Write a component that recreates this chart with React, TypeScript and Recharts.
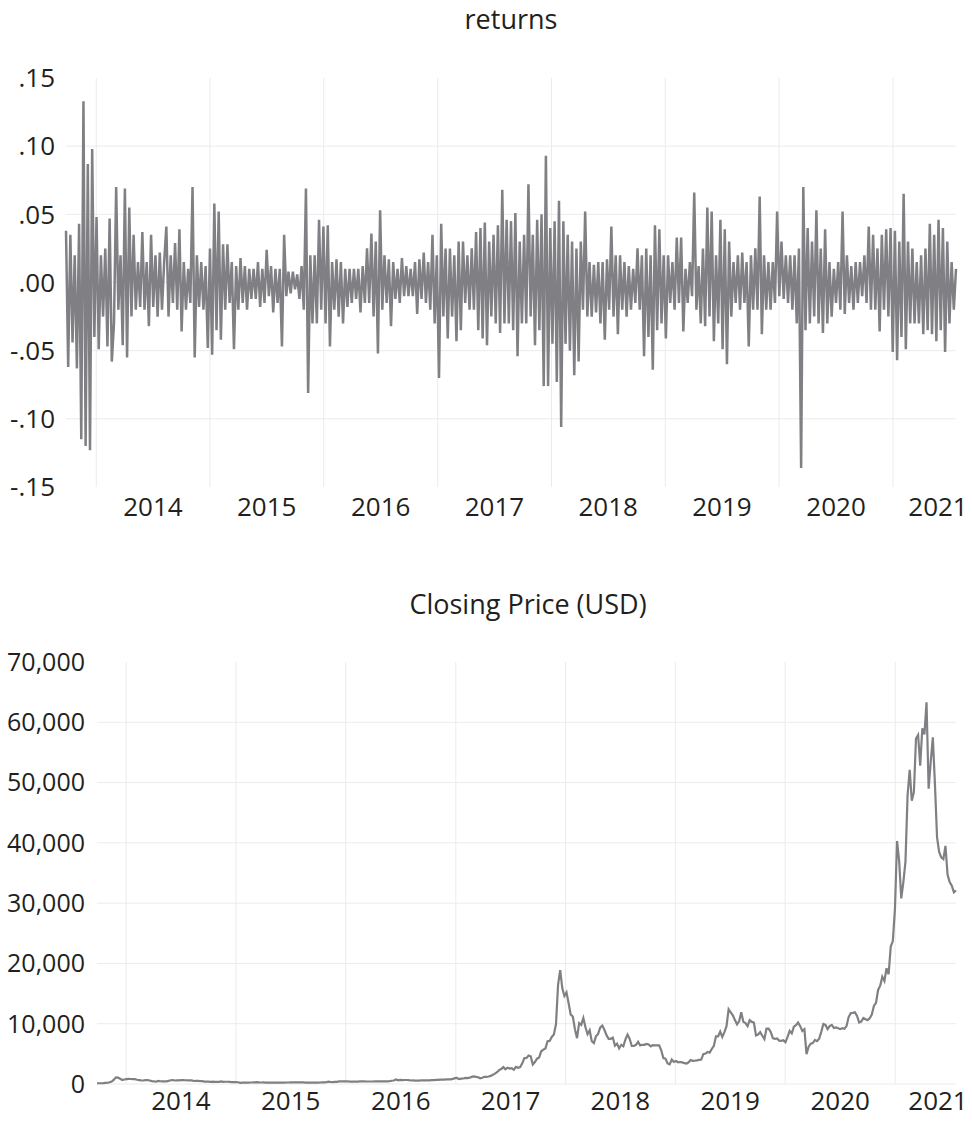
import React from 'react';
import { LineChart, Line, XAxis, YAxis, CartesianGrid } from 'recharts';

// weekly observations, Thursday closes
const startDate = Date.UTC(2013, 8, 26);
const endDate = Date.UTC(2021, 6, 22);
const WEEK = 7 * 24 * 3600 * 1000;

const years = [2014, 2015, 2016, 2017, 2018, 2019, 2020, 2021];
const yearStarts = years.map((y) => Date.UTC(y, 0, 1));
const yearLabels = years.map((y) => Date.UTC(y, 6, 2));

const returnTicks = [-0.15, -0.1, -0.05, 0, 0.05, 0.1, 0.15];
const returnGrid = [-0.1, -0.05, 0, 0.05, 0.1];
const priceTicks = [0, 10000, 20000, 30000, 40000, 50000, 60000, 70000];
const priceGrid = [0, 10000, 20000, 30000, 40000, 50000, 60000];

const weeklyReturns = [
  // Sep 2013 - Sep 2014
  .038, -.062, .035, -.044, .02, -.063, .043, -.115, .133, -.12, .087, -.123, .098, -.04, .048, -.049, .02, -.025, .025, -.047, .047, -.058, -.03, .07, -.02, .02,
  -.046, .069, -.055, .055, -.025, .035, -.02, .015, -.018, .037, -.02, .015, -.032, .035, -.018, .02, -.025, .022, -.02, .015, .041, -.025, .02, -.015, .029, -.02,
  // Sep 2014 - Sep 2015
  .039, -.036, .015, -.02, .01, -.015, .07, -.055, .02, -.018, .015, -.02, .012, -.048, .025, -.053, .058, -.035, .052, -.042, .028, -.02, .028, -.015, .015, -.049,
  .012, -.02, .018, -.015, .012, -.02, .01, -.012, .01, -.012, .015, -.018, .01, -.015, .024, -.01, .012, -.022, .01, -.015, .01, -.047, .035, -.01, .008, -.008,
  // Sep 2015 - Sep 2016
  .008, -.005, .006, -.012, .012, -.02, .069, -.081, .02, -.03, .02, -.03, .046, -.02, .041, -.03, .042, -.047, .015, -.02, .017, -.025, .015, -.03, .01, -.018,
  .01, -.015, .01, -.012, .01, -.022, .012, -.015, .025, -.015, .036, -.025, .03, -.052, .053, -.02, .02, -.015, .017, -.032, .015, -.012, .01, -.015, .018, -.01,
  // Sep 2016 - Sep 2017
  .012, -.01, .01, -.01, .015, -.023, .017, -.012, .022, -.015, .015, -.02, .035, -.03, .02, -.07, .043, -.025, .025, -.041, .025, -.025, .02, -.043, .03, -.035,
  .03, -.015, .02, -.02, .025, -.02, .037, -.035, .04, -.041, .044, -.046, .03, -.025, .035, -.03, .042, -.037, .068, -.03, .046, -.03, .045, -.035, .051, -.054,
  // Sep 2017 - Sep 2018
  .03, -.03, .035, -.03, .072, -.025, .035, -.046, .046, -.035, .05, -.076, .093, -.076, .04, -.045, .045, -.073, .06, -.106, .045, -.045, .035, -.05, .03, -.068,
  .025, -.058, .03, -.02, .052, -.025, .015, -.025, .013, -.022, .015, -.03, .015, -.042, .017, -.02, .041, -.025, .02, -.038, .02, -.02, .015, -.025, .012, -.02,
  // Sep 2018 - Sep 2019
  .01, -.015, .025, -.02, .02, -.054, .025, -.04, .02, -.064, .042, -.035, .039, -.03, .02, -.041, .02, -.015, .015, -.02, .033, -.015, .033, -.036, .01, -.015,
  .015, -.01, .066, -.02, .012, -.03, .025, -.032, .055, -.025, .052, -.043, .02, -.03, .046, -.049, .039, -.06, .03, -.025, .015, -.015, .02, -.02, .022, -.015,
  // Sep 2019 - Sep 2020
  .015, -.047, .02, -.02, .025, -.02, .063, -.038, .02, -.02, .015, -.02, .015, -.015, .052, -.01, .03, -.012, .02, -.015, .02, -.02, .02, -.03, .025, -.136,
  .07, -.035, .04, -.03, .03, -.025, .053, -.03, .025, -.037, .039, -.03, .015, -.025, .01, -.015, .015, -.02, .052, -.023, .02, -.015, .012, -.02, .015, -.015,
  // Sep 2020 - Jul 2021
  .015, -.01, .02, -.015, .041, -.02, .035, -.02, .025, -.036, .035, -.02, .039, -.025, .04, -.051, .038, -.057, .03, -.04, .065, -.049, .03,
  -.03, .025, -.03, .015, -.03, .02, -.038, .025, -.035, .043, -.038, .035, -.043, .046, -.035, .04, -.051, .03, -.03, .015, -.02, .01,
];

const weeklyClose = [
  // 2013
  125, 122, 125, 150, 190, 205, 290, 420, 720, 1100, 1050, 880, 660, 750,
  // 2014
  810, 860, 830, 810, 800, 700, 650, 600, 580, 650, 630, 580, 480, 450, 380, 500, 460, 450, 440, 450, 520, 620, 650, 580, 600, 590,
  640, 630, 620, 600, 590, 590, 500, 515, 510, 480, 475, 400, 410, 380, 350, 385, 355, 340, 350, 420, 360, 370, 370, 350, 320, 320,
  // 2015
  315, 290, 200, 235, 230, 220, 235, 245, 255, 275, 295, 260, 250, 255, 235, 225, 230, 235, 240, 237, 240, 237, 225, 230, 250, 245,
  258, 270, 280, 277, 285, 278, 265, 235, 225, 230, 240, 232, 235, 238, 245, 262, 280, 315, 380, 335, 325, 360, 365, 435, 455, 430, 430,
  // 2016
  455, 390, 410, 380, 385, 380, 420, 425, 425, 415, 415, 418, 416, 422, 425, 450, 450, 448, 455, 442, 470, 540, 580, 760, 610, 670,
  640, 660, 665, 655, 580, 590, 575, 578, 573, 625, 607, 595, 605, 612, 637, 630, 690, 690, 715, 740, 735, 755, 770, 780, 860, 975,
  // 2017
  1000, 810, 895, 915, 1010, 990, 1050, 1180, 1260, 1190, 1120, 940, 1040, 1190, 1180, 1240, 1350, 1530, 1720, 1960, 2300, 2480, 2800, 2450, 2700, 2550,
  2610, 2360, 2830, 2680, 2800, 3420, 4300, 4330, 4730, 4600, 3250, 3630, 4200, 4400, 5430, 5700, 5900, 7100, 7150, 7800, 8200, 9900, 16500, 18900, 15900, 14600,
  // 2018
  15200, 13400, 11500, 11200, 9100, 7600, 10100, 9800, 10950, 9400, 8250, 8900, 7100, 6800, 7900, 8300, 9350, 9700, 9000, 8100, 7500, 7500, 7700, 6350, 6700, 5900,
  6500, 6250, 7400, 8200, 7500, 6300, 6300, 6500, 7000, 6400, 6500, 6500, 6650, 6550, 6250, 6450, 6400, 6400, 6400, 5600, 4300, 4200, 3400, 3250, 4050, 3650,
  // 2019
  3800, 3600, 3650, 3580, 3450, 3400, 3600, 3980, 3850, 3880, 3930, 4000, 4050, 4950, 5050, 5300, 5200, 5800, 6350, 7900, 7900, 8700, 7800, 8600, 9600, 12400,
  11900, 11400, 10600, 9900, 10400, 11900, 10300, 10100, 9600, 10600, 10300, 10200, 8050, 8200, 8600, 8000, 7450, 9200, 9200, 8650, 7600, 7500, 7550, 7200, 7150, 7250,
  // 2020
  6950, 7800, 8800, 8400, 9500, 9750, 10200, 9600, 8800, 9100, 4950, 6200, 6700, 6800, 7300, 7100, 7500, 8650, 9950, 9800, 9100, 9600, 9800, 9300, 9400, 9250,
  9100, 9250, 9150, 9600, 11100, 11750, 11800, 11900, 11300, 10200, 10350, 10950, 10750, 10600, 10900, 11500, 12950, 13450, 15600, 16300, 17800, 17100, 19200, 18200, 22800, 23700, 29000,
  // 2021
  40300, 37000, 30800, 33500, 36900, 47900, 52100, 47000, 48400, 57300, 57900, 52800, 59000, 58000, 63300, 49000, 53500,
  57500, 49700, 40900, 38500, 37600, 37300, 39500, 34700, 33500, 32900, 31800, 32100,
];

const rows = weeklyReturns.map((r, i) => ({
  t: startDate + i * WEEK,
  r,
  p: weeklyClose[i],
}));

const FONT = "'Open Sans', sans-serif";
const TEXT = '#231f20';
const LINE = '#808084';
const GRID = '#ebebeb';
const W = 972;

const fmtReturn = (v: number) => {
  const s = Math.abs(v).toFixed(2).replace(/^0/, '');
  return v < -1e-9 ? '-' + s : s;
};
const fmtPrice = (v: number) => v.toLocaleString('en-US');

// year label centred mid-year, pulled back inside the page at the right edge
function YearTick(props: any) {
  const { x, y, payload } = props;
  const half = 30;
  const cx = Math.min(x, W - 4 - half);
  return (
    <text x={cx} y={y} dy="0.71em" textAnchor="middle" fill={TEXT} fontSize={26} fontFamily={FONT}>
      {new Date(payload.value).getUTCFullYear()}
    </text>
  );
}

export default function App() {
  return (
    <div style={{ position: 'absolute', left: 0, top: 0, width: W, height: 1121, background: '#fff' }}>
      <svg width={W} height={1121} style={{ position: 'absolute', left: 0, top: 0, pointerEvents: 'none' }}>
        <text x={511} y={29} textAnchor="middle" fill={TEXT} fontSize={27} fontFamily={FONT}>returns</text>
        <text x={528} y={614} textAnchor="middle" fill={TEXT} fontSize={27} fontFamily={FONT}>Closing Price (USD)</text>
      </svg>

      <div style={{ position: 'absolute', left: 0, top: 0 }}>
        <LineChart width={W} height={540} data={rows} margin={{ top: 78, right: 16, left: 0, bottom: 13 }}>
          {/* gridlines at year starts, labels at mid-year */}
          <CartesianGrid stroke={GRID} strokeWidth={1} verticalValues={yearStarts} horizontalValues={returnGrid} />
          <XAxis
            type="number"
            dataKey="t"
            domain={[startDate, endDate]}
            ticks={yearLabels}
            interval={0}
            height={40}
            axisLine={false}
            tickLine={false}
            tickSize={0}
            tickMargin={11}
            tick={<YearTick />}
          />
          <YAxis
            type="number"
            domain={[-0.15, 0.15]}
            ticks={returnTicks}
            interval={0}
            width={66}
            axisLine={false}
            tickLine={false}
            tickSize={0}
            tickMargin={11}
            tickFormatter={fmtReturn}
            tick={{ fill: TEXT, fontSize: 26, fontFamily: FONT }}
          />
          <Line
            type="linear"
            dataKey="r"
            stroke={LINE}
            strokeWidth={2.5}
            dot={false}
            isAnimationActive={false}
          />
        </LineChart>
      </div>

      <div style={{ position: 'absolute', left: 0, top: 560 }}>
        <LineChart width={W} height={561} data={rows} margin={{ top: 102, right: 16, left: 0, bottom: 0 }}>
          <CartesianGrid stroke={GRID} strokeWidth={1} verticalValues={yearStarts} horizontalValues={priceGrid} />
          <XAxis
            type="number"
            dataKey="t"
            domain={[startDate, endDate]}
            ticks={yearLabels}
            interval={0}
            height={37}
            axisLine={false}
            tickLine={false}
            tickSize={0}
            tickMargin={8}
            tick={<YearTick />}
          />
          <YAxis
            type="number"
            domain={[0, 70000]}
            ticks={priceTicks}
            interval={0}
            width={97}
            axisLine={false}
            tickLine={false}
            tickSize={0}
            tickMargin={12}
            tickFormatter={fmtPrice}
            tick={{ fill: TEXT, fontSize: 25, fontFamily: FONT }}
          />
          <Line
            type="linear"
            dataKey="p"
            stroke={LINE}
            strokeWidth={2.2}
            dot={false}
            isAnimationActive={false}
          />
        </LineChart>
      </div>
    </div>
  );
}
